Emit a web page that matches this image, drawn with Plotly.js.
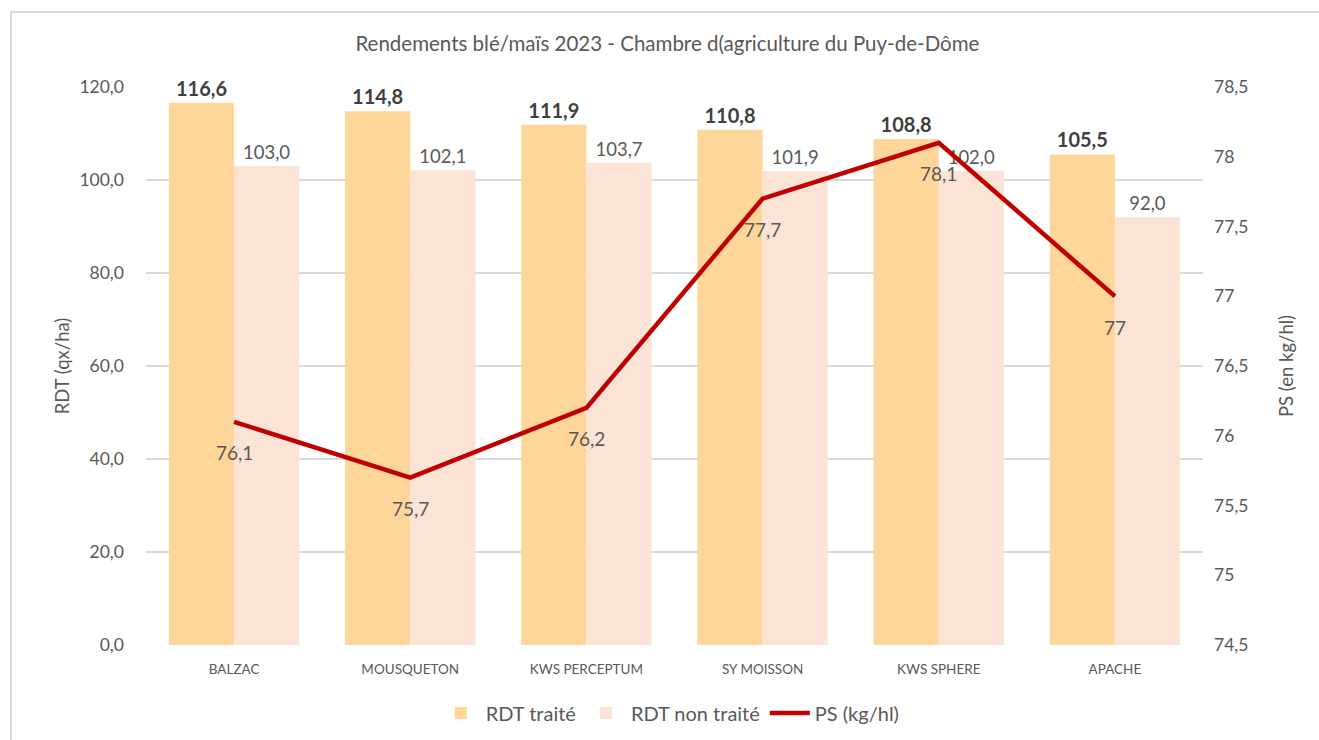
<!DOCTYPE html>
<html>
<head>
<meta charset="utf-8">
<script src="https://cdn.plot.ly/plotly-3.0.1.min.js"></script>
<style>
  html, body { margin: 0; padding: 0; background: #fff; overflow: hidden; width: 1319px; height: 740px; }
  #frame { position: absolute; left: 10px; top: 11px; width: 1400px; height: 800px;
           border-left: 2px solid #d9d9d9; border-top: 2px solid #d9d9d9; pointer-events: none; z-index: 5; }
  #chart { width: 1319px; height: 740px; }
</style>
</head>
<body>
<div id="frame"></div>
<div id="chart"></div>
<script>
const categories = ["BALZAC", "MOUSQUETON", "KWS PERCEPTUM", "SY MOISSON", "KWS SPHERE", "APACHE"];
const rdtTraite = [116.6, 114.8, 111.9, 110.8, 108.8, 105.5];
const rdtNonTraite = [103.0, 102.1, 103.7, 101.9, 102.0, 92.0];
const ps = [76.1, 75.7, 76.2, 77.7, 78.1, 77];
const psLabels = ["76,1", "75,7", "76,2", "77,7", "78,1", "77"];
const leftTicks = [0, 20, 40, 60, 80, 100, 120];
const leftTickText = ["0,0", "20,0", "40,0", "60,0", "80,0", "100,0", "120,0"];
const rightTicks = [74.5, 75, 75.5, 76, 76.5, 77, 77.5, 78, 78.5];
const rightTickText = ["74,5", "75", "75,5", "76", "76,5", "77", "77,5", "78", "78,5"];

const fr = v => v.toFixed(1).replace(".", ",");
const FONT = "Lato, 'Open Sans', sans-serif";
const GREY = "#595959";

const traces = [
  {
    type: "bar", name: "RDT traité", x: categories, y: rdtTraite,
    marker: { color: "#FFD699" },
    text: rdtTraite.map(fr), textposition: "outside", cliponaxis: false,
    textfont: { family: FONT, size: 20, color: "#404040", weight: "bold" },
    hoverinfo: "skip"
  },
  {
    type: "bar", name: "RDT non traité", x: categories, y: rdtNonTraite,
    marker: { color: "#FBE4D6" },
    text: rdtNonTraite.map(fr), textposition: "outside", cliponaxis: false,
    textfont: { family: FONT, size: 18.5, color: GREY },
    hoverinfo: "skip"
  },
  {
    type: "scatter", mode: "lines", name: "PS (kg/hl)", x: categories, y: ps, yaxis: "y2",
    line: { color: "#C00000", width: 4.5 }, cliponaxis: false, hoverinfo: "skip"
  }
];

const annotations = categories.map((c, i) => ({
  x: c, y: ps[i], xref: "x", yref: "y2", text: psLabels[i], showarrow: false,
  yshift: -31, font: { family: FONT, size: 19, color: GREY }
}));

const layout = {
  width: 1319, height: 740,
  margin: { l: 146, r: 116, t: 87, b: 95 },
  paper_bgcolor: "#fff", plot_bgcolor: "#fff",
  font: { family: FONT, color: GREY },
  title: { text: "Rendements blé/maïs 2023 - Chambre d(agriculture du Puy-de-Dôme",
           font: { family: FONT, size: 20.5, color: GREY },
           x: 0.506, xref: "container", xanchor: "center",
           y: 1 - 44 / 740, yref: "container", yanchor: "middle" },
  barmode: "group", bargap: 0.26, bargroupgap: 0,
  xaxis: {
    type: "category", tickfont: { family: FONT, size: 13.5, color: GREY }, automargin: false,
    showgrid: false, showline: false, ticks: "", zeroline: false, ticklabelstandoff: 14
  },
  yaxis: {
    range: [0, 120], tickvals: leftTicks, ticktext: leftTickText, automargin: false,
    tickfont: { family: FONT, size: 17.5, color: GREY },
    showgrid: true, gridcolor: "#d9d9d9", gridwidth: 1.3, zeroline: false, showline: false,
    ticks: "", ticklabelstandoff: 21,
    title: { text: "RDT (qx/ha)", font: { family: FONT, size: 18.5, color: GREY }, standoff: 4 }
  },
  yaxis2: {
    overlaying: "y", side: "right", range: [74.5, 78.5], automargin: false,
    tickvals: rightTicks, ticktext: rightTickText,
    tickfont: { family: FONT, size: 17.5, color: GREY },
    showgrid: false, zeroline: false, showline: false, ticks: "", ticklabelstandoff: 10,
    title: { text: "PS (en kg/hl)", font: { family: FONT, size: 18.5, color: GREY }, standoff: 32 }
  },
  legend: {
    orientation: "h", x: 0.496, xanchor: "center", xref: "paper",
    y: 1 - 713 / 740, yanchor: "middle", yref: "container",
    font: { family: FONT, size: 20, color: GREY }, itemwidth: 40, traceorder: "normal"
  },
  annotations: annotations,
  showlegend: true
};

Plotly.newPlot("chart", traces, layout, { displayModeBar: false, staticPlot: true });
</script>
</body>
</html>
